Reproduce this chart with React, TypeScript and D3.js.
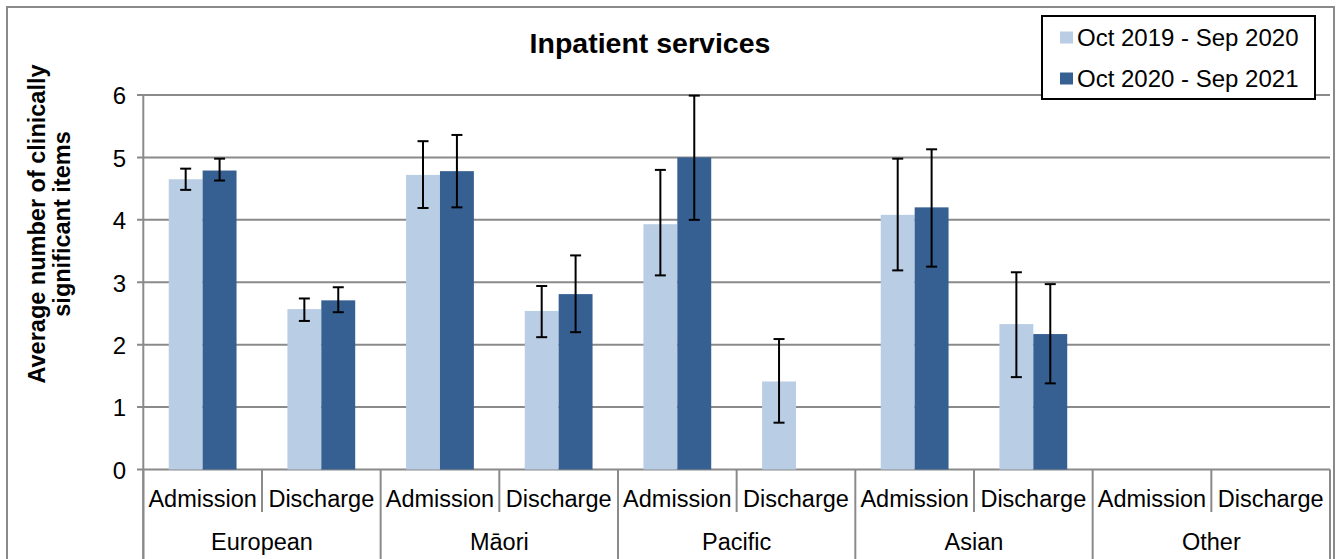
import React from "react";
import * as d3 from "d3";

const groups = ["European", "Māori", "Pacific", "Asian", "Other"];
const stages = ["Admission", "Discharge"];
const seriesNames = ["Oct 2019 - Sep 2020", "Oct 2020 - Sep 2021"];
const seriesColors = ["#B9CDE5", "#376092"];

const values2019: (number | null)[] = [4.65, 2.57, 4.72, 2.54, 3.93, 1.41, 4.08, 2.33, null, null];
const low2019: (number | null)[] = [4.48, 2.38, 4.19, 2.12, 3.11, 0.75, 3.19, 1.48, null, null];
const high2019: (number | null)[] = [4.82, 2.74, 5.26, 2.94, 4.8, 2.09, 4.98, 3.16, null, null];

const values2020: (number | null)[] = [4.79, 2.71, 4.78, 2.81, 5.0, null, 4.2, 2.17, null, null];
const low2020: (number | null)[] = [4.63, 2.52, 4.2, 2.2, 4.0, null, 3.25, 1.38, null, null];
const high2020: (number | null)[] = [4.98, 2.92, 5.36, 3.43, 5.99, null, 5.13, 2.97, null, null];

const yTicks = [0, 1, 2, 3, 4, 5, 6];

const W = 1337;
const H = 559;
const FONT = "'Liberation Sans', Arial, sans-serif";
const GRID = "#8a8a8a";

export default function App() {
  const left = 143.3;
  const right = 1330;
  const y0 = 469.5;
  const yTop = 95;

  const cats = groups.flatMap((g) => stages.map((s) => `${g}|${s}`));
  const x = d3.scaleBand<string>().domain(cats).range([left, right]).paddingInner(0).paddingOuter(0);
  const x1 = d3.scaleBand<string>().domain(["0", "1"]).range([0, x.bandwidth()]).paddingInner(0).paddingOuter(0.75);
  const y = d3.scaleLinear().domain([0, 6]).range([y0, yTop]);

  const series = [
    { vals: values2019, lo: low2019, hi: high2019 },
    { vals: values2020, lo: low2020, hi: high2020 },
  ];

  const step = x.step();

  return (
    <svg width={W} height={H} style={{ position: "absolute", left: 0, top: 0, background: "#fff" }} fontFamily={FONT}>
      <rect x={0} y={0} width={W} height={H} fill="#fff" />
      <rect x={7} y={7} width={1327} height={600} fill="none" stroke={GRID} strokeWidth={2} />

      {/* gridlines */}
      {yTicks.map((t) => (
        <line key={`g${t}`} x1={137} x2={right} y1={y(t)} y2={y(t)} stroke={GRID} strokeWidth={2} />
      ))}
      {/* y axis */}
      <line x1={left} x2={left} y1={yTop} y2={H} stroke={GRID} strokeWidth={2} />
      {yTicks.map((t) => (
        <text key={`t${t}`} x={126} y={y(t) + 3} textAnchor="end" fontSize={24} fill="#000" dominantBaseline="middle">
          {t}
        </text>
      ))}

      {/* category separators */}
      {d3.range(cats.length + 1).map((i) => {
        const xx = left + i * step;
        const isGroup = i % 2 === 0;
        return (
          <line key={`s${i}`} x1={xx} x2={xx} y1={y0} y2={isGroup ? H : 512} stroke={GRID} strokeWidth={2} />
        );
      })}

      {/* bars */}
      {series.map((s, si) =>
        cats.map((c, ci) => {
          const v = s.vals[ci];
          if (v == null) return null;
          const bx = (x(c) as number) + (x1(String(si)) as number);
          return (
            <rect
              key={`b${si}-${ci}`}
              x={bx}
              y={y(v)}
              width={x1.bandwidth()}
              height={y0 - y(v)}
              fill={seriesColors[si]}
            />
          );
        })
      )}

      {/* error bars */}
      {series.map((s, si) =>
        cats.map((c, ci) => {
          const v = s.vals[ci];
          const lo = s.lo[ci];
          const hi = s.hi[ci];
          if (v == null || lo == null || hi == null) return null;
          const cx = (x(c) as number) + (x1(String(si)) as number) + x1.bandwidth() / 2;
          return (
            <g key={`e${si}-${ci}`} stroke="#000" strokeWidth={2}>
              <line x1={cx} x2={cx} y1={y(hi)} y2={y(lo)} />
              <line x1={cx - 5.5} x2={cx + 5.5} y1={y(hi)} y2={y(hi)} />
              <line x1={cx - 5.5} x2={cx + 5.5} y1={y(lo)} y2={y(lo)} />
            </g>
          );
        })
      )}

      {/* sub labels */}
      {cats.map((c) => (
        <text
          key={`l${c}`}
          x={(x(c) as number) + x.bandwidth() / 2}
          y={507}
          textAnchor="middle"
          fontSize={23.5}
          fill="#000"
        >
          {c.split("|")[1]}
        </text>
      ))}
      {groups.map((g, gi) => (
        <text key={`gl${g}`} x={left + (gi * 2 + 1) * step} y={550} textAnchor="middle" fontSize={23.5} fill="#000">
          {g}
        </text>
      ))}

      {/* title */}
      <text x={650} y={53} textAnchor="middle" fontSize={28.5} fontWeight="bold" fill="#000">
        Inpatient services
      </text>

      {/* y axis title */}
      <text transform="translate(45,224) rotate(-90)" textAnchor="middle" fontSize={23.5} fontWeight="bold" fill="#000">
        Average number of clinically
      </text>
      <text transform="translate(70,224) rotate(-90)" textAnchor="middle" fontSize={23.5} fontWeight="bold" fill="#000">
        significant items
      </text>

      {/* legend */}
      <rect x={1042} y={16} width={273} height={83} fill="#fff" stroke="#000" strokeWidth={2} />
      {seriesNames.map((n, i) => (
        <g key={`lg${i}`}>
          <rect x={1060} y={31.5 + i * 41} width={13} height={12} fill={seriesColors[i]} />
          <text x={1077} y={45.5 + i * 41} fontSize={24} fill="#000">
            {n}
          </text>
        </g>
      ))}
    </svg>
  );
}
